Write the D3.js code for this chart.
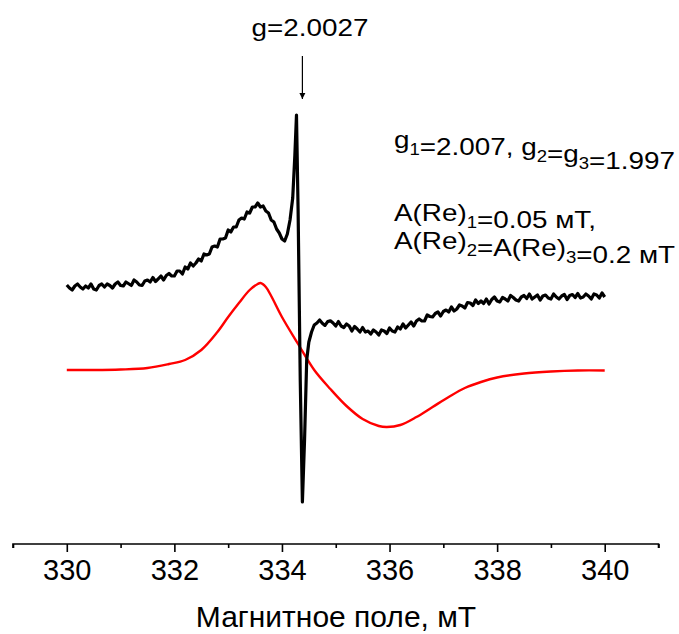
<!DOCTYPE html>
<html>
<head>
<meta charset="utf-8">
<script src="https://cdn.jsdelivr.net/npm/d3@7"></script>
<style>
  html, body { margin: 0; padding: 0; background: #fff; }
  svg { display: block; }
  text { font-family: Arial, "Liberation Sans", sans-serif; fill: #000; }
</style>
</head>
<body>
<svg id="chart" width="679" height="634"></svg>
<script>
// ---- data ----
const fieldExpt = [
  330.00,330.05,330.10,330.15,330.20,330.25,330.30,330.35,330.40,330.45,
  330.50,330.55,330.60,330.65,330.70,330.75,330.80,330.85,330.90,330.95,
  331.00,331.05,331.10,331.15,331.20,331.25,331.30,331.35,331.40,331.45,
  331.50,331.55,331.60,331.65,331.70,331.75,331.80,331.85,331.90,331.95,
  332.00,332.05,332.10,332.15,332.20,332.25,332.30,332.35,332.40,332.45,
  332.50,332.55,332.60,332.65,332.70,332.75,332.80,332.85,332.90,332.95,
  333.00,333.05,333.10,333.15,333.20,333.25,333.30,333.35,333.40,333.45,
  333.50,333.55,333.60,333.65,333.70,333.75,333.80,333.85,333.90,333.95,
  334.00,334.05,334.10,334.15,334.20,334.24,334.27,334.30,334.34,334.38,
  334.42,334.46,334.50,334.55,334.60,334.65,
  334.70,334.75,334.80,334.85,334.90,334.95,
  335.00,335.05,335.10,335.15,335.20,335.25,335.30,335.35,335.40,335.45,
  335.50,335.55,335.60,335.65,335.70,335.75,335.80,335.85,335.90,335.95,
  336.00,336.05,336.10,336.15,336.20,336.25,336.30,336.35,336.40,336.45,
  336.50,336.55,336.60,336.65,336.70,336.75,336.80,336.85,336.90,336.95,
  337.00,337.05,337.10,337.15,337.20,337.25,337.30,337.35,337.40,337.45,
  337.50,337.55,337.60,337.65,337.70,337.75,337.80,337.85,337.90,337.95,
  338.00,338.05,338.10,338.15,338.20,338.25,338.30,338.35,338.40,338.45,
  338.50,338.55,338.60,338.65,338.70,338.75,338.80,338.85,338.90,338.95,
  339.00,339.05,339.10,339.15,339.20,339.25,339.30,339.35,339.40,339.45,
  339.50,339.55,339.60,339.65,339.70,339.75,339.80,339.85,339.90,339.95,
  340.00];
const signalExpt = [
  0.85,0.82,0.80,0.84,0.86,0.83,0.81,0.84,0.82,0.86,
  0.81,0.80,0.845,0.86,0.83,0.86,0.845,0.82,0.86,0.88,
  0.845,0.84,0.88,0.8625,0.845,0.90,0.88,0.85,0.845,0.89,
  0.90,0.88,0.925,0.885,0.912,0.94,0.90,0.945,0.965,0.94,
  0.94,0.99,0.99,0.96,1.03,1.01,1.07,1.04,1.07,1.11,
  1.09,1.16,1.15,1.16,1.23,1.24,1.23,1.31,1.31,1.32,
  1.40,1.38,1.43,1.43,1.50,1.52,1.51,1.58,1.57,1.63,
  1.63,1.67,1.63,1.64,1.59,1.57,1.50,1.48,1.41,1.37,
  1.31,1.29,1.36,1.50,1.72,2.15,2.55,1.60,-0.10,-1.32,
  -0.70,0.10,0.28,0.38,0.45,0.47,
  0.50,0.468,0.446,0.484,0.492,0.47,
  0.44,0.485,0.44,0.425,0.46,0.44,0.39,0.435,0.41,0.38,
  0.425,0.38,0.39,0.36,0.40,0.38,0.35,0.40,0.39,0.365,
  0.42,0.39,0.38,0.43,0.41,0.46,0.42,0.45,0.48,0.44,
  0.49,0.51,0.49,0.49,0.55,0.535,0.53,0.565,0.58,0.54,
  0.585,0.60,0.58,0.63,0.59,0.61,0.65,0.64,0.62,0.675,
  0.67,0.645,0.70,0.665,0.69,0.665,0.71,0.66,0.705,0.73,
  0.69,0.68,0.725,0.71,0.69,0.745,0.725,0.70,0.69,0.73,
  0.745,0.715,0.76,0.71,0.73,0.75,0.70,0.74,0.75,0.72,
  0.71,0.76,0.73,0.71,0.74,0.755,0.705,0.745,0.755,0.725,
  0.765,0.72,0.73,0.76,0.74,0.71,0.76,0.75,0.72,0.77,
  0.73];

const fieldSim = [330.0,330.5,331.0,331.5,331.9,332.2,332.5,332.8,333.0,333.2,333.4,333.55,333.6,
  333.7,333.8,334.0,334.3,334.6,334.9,335.2,335.5,335.8,335.95,336.2,336.5,336.8,337.1,337.4,337.7,
  338.0,338.5,339.0,339.5,340.0];
const signalSim = [0.0,0.0,0.005,0.02,0.06,0.10,0.20,0.38,0.53,0.67,0.80,0.86,0.87,
  0.83,0.74,0.53,0.26,0.0,-0.19,-0.36,-0.49,-0.56,-0.57,-0.55,-0.47,-0.37,-0.27,-0.18,-0.12,
  -0.075,-0.035,-0.015,-0.005,-0.005];

const xTicks = [330, 332, 334, 336, 338, 340];
const xMinorTicks = [329, 331, 333, 335, 337, 339, 341];
const xLabel = "Магнитное поле, мТ";
const gMarker = 2.0027;
const gMarkerField = 334.38;

// ---- drawing ----
const svg = d3.select("#chart");
const x = d3.scaleLinear().domain([329, 341]).range([13, 658.5]);
const y = d3.scaleLinear().domain([-1.5, 2.7]).range([520, 100]);
const axisY = 544;

// simulated (red)
svg.append("path")
  .datum(d3.zip(fieldSim, signalSim))
  .attr("fill", "none").attr("stroke", "#f00").attr("stroke-width", 2.4)
  .attr("d", d3.line().x(d => x(d[0])).y(d => y(d[1])).curve(d3.curveCatmullRom.alpha(0.5)));

// experimental (black)
svg.append("path")
  .datum(d3.zip(fieldExpt, signalExpt))
  .attr("fill", "none").attr("stroke", "#000").attr("stroke-width", 3.2)
  .attr("stroke-linejoin", "round")
  .attr("d", d3.line().x(d => x(d[0])).y(d => y(d[1])).curve(d3.curveLinear));

// x axis
const gx = svg.append("g").attr("transform", `translate(0,${axisY})`);
gx.call(d3.axisBottom(x).tickValues(xTicks).tickSize(8).tickSizeOuter(0).tickPadding(7)
    .tickFormat(d3.format("d")));
gx.append("g").call(d3.axisBottom(x).tickValues(xMinorTicks).tickSize(4).tickFormat(""))
  .select(".domain").remove();
gx.selectAll(".domain").attr("stroke-width", 1.6).attr("d", `M${x(329)},4V0H${x(341)}V4`);
gx.selectAll(".tick line").attr("stroke-width", 1.6);
gx.selectAll(".tick text").style("font-size", "29px").style("font-family", "Arial, 'Liberation Sans', sans-serif");

svg.append("text").attr("x", 336).attr("y", 627).attr("text-anchor", "middle")
  .style("font-size", "30px").text(xLabel);

// g marker annotation
svg.append("defs").append("marker").attr("id", "arr").attr("viewBox", "0 0 10 10")
  .attr("refX", 10).attr("refY", 5).attr("markerWidth", 6).attr("markerHeight", 12)
  .attr("markerUnits", "userSpaceOnUse").attr("orient", "auto")
  .append("path").attr("d", "M0,0L10,5L0,10Z").attr("fill", "#000");
svg.append("line").attr("x1", x(gMarkerField)).attr("x2", x(gMarkerField))
  .attr("y1", 56).attr("y2", 99).attr("stroke", "#000").attr("stroke-width", 1.2)
  .attr("marker-end", "url(#arr)");
const SX = 1.16;
svg.append("g").attr("transform", `translate(310,36) scale(${SX},1)`)
  .append("text").attr("x", 0).attr("y", 0).attr("text-anchor", "middle")
  .style("font-size", "24px").text("g=" + gMarker.toFixed(4));

// parameter text
function addRich(xp, yp, parts) {
  const g = svg.append("g").attr("transform", `translate(${xp},${yp}) scale(${SX},1)`);
  const t = g.append("text").attr("x", 0).attr("y", 0).style("font-size", "24px");
  parts.forEach(p => {
    if (p.sub) {
      t.append("tspan").attr("dy", 7).style("font-size", "16px").text(p.sub);
      t.append("tspan").attr("dy", -7).text("");
    } else {
      t.append("tspan").text(p.t);
    }
  });
  return t;
}
addRich(394, 148, [{t:"g"},{sub:"1"},{t:"=2.007, g"},{sub:"2"},{t:"=g"},{sub:"3"},{t:"=1.997"}]);
addRich(394, 221, [{t:"A(Re)"},{sub:"1"},{t:"=0.05 мТ,"}]);
addRich(394, 249, [{t:"A(Re)"},{sub:"2"},{t:"=A(Re)"},{sub:"3"},{t:"=0.2 мТ"}]);
</script>
</body>
</html>
